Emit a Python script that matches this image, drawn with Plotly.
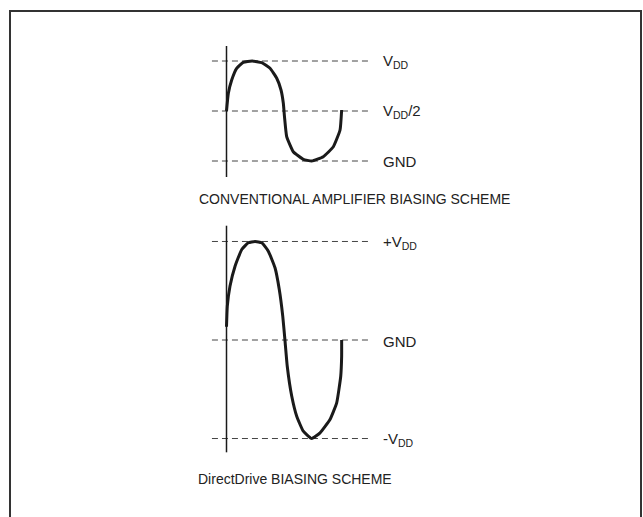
import plotly.graph_objects as go

# ---- data (time in waveform periods, voltage in units of VDD) ----
conv_t = [0.0, 0.016, 0.045, 0.088, 0.145, 0.223, 0.305, 0.377, 0.435, 0.472,
          0.492, 0.502, 0.521, 0.578, 0.665, 0.738, 0.838, 0.925, 0.983, 0.997]
conv_v = [0.50, 0.677, 0.81, 0.927, 0.987, 1.0, 0.983, 0.927, 0.827, 0.71,
          0.577, 0.443, 0.243, 0.093, 0.017, 0.0, 0.043, 0.143, 0.31, 0.51]

dd_t = [0.0, 0.007, 0.030, 0.074, 0.132, 0.189, 0.247, 0.305, 0.362, 0.420,
        0.457, 0.487, 0.506, 0.526, 0.565, 0.608, 0.665, 0.738, 0.810, 0.896,
        0.954, 0.989, 0.997, 0.997]
dd_v = [0.134, 0.343, 0.546, 0.749, 0.919, 0.987, 1.0, 0.987, 0.902, 0.733,
        0.513, 0.242, 0.0, -0.266, -0.571, -0.774, -0.926, -1.0, -0.942, -0.807,
        -0.638, -0.368, -0.164, 0.0]

conv_levels = [1.0, 0.5, 0.0]
conv_labels = ["V<sub>DD</sub>", "V<sub>DD</sub>/2", "GND"]
dd_levels = [1.0, 0.0, -1.0]
dd_labels = ["+V<sub>DD</sub>", "GND", "-V<sub>DD</sub>"]

conv_axis_span = [-0.16, 1.15]
dd_axis_span = [-1.14, 1.16]
ref_span = [-0.126, 1.242]
label_t = 1.335

conv_title = "CONVENTIONAL AMPLIFIER BIASING SCHEME"
dd_title = "DirectDrive BIASING SCHEME"

W, H = 643, 517
FONT = "Liberation Sans Narrow, Arial Narrow, Liberation Sans, Arial, sans-serif"
INK = "#1a1a1a"

fig = go.Figure()

def add_panel(t, v, levels, labels, span, yref_trace, yref_ann):
    for lv in levels:
        fig.add_trace(go.Scatter(x=ref_span, y=[lv, lv], mode="lines",
                                 line=dict(color="#444", width=1, dash="6px,4px"),
                                 yaxis=yref_trace, hoverinfo="skip", showlegend=False))
    fig.add_trace(go.Scatter(x=[0, 0], y=span, mode="lines",
                             line=dict(color=INK, width=1.5),
                             yaxis=yref_trace, hoverinfo="skip", showlegend=False))
    fig.add_trace(go.Scatter(x=t, y=v, mode="lines",
                             line=dict(color=INK, width=3, shape="spline", smoothing=0.4),
                             yaxis=yref_trace, hoverinfo="skip", showlegend=False))
    for lv, lab in zip(levels, labels):
        fig.add_annotation(x=label_t, y=lv, xref="x", yref=yref_ann, text=lab,
                           showarrow=False, xanchor="left", yanchor="middle", yshift=-1,
                           font=dict(family=FONT, size=15, color="#222"))

add_panel(conv_t, conv_v, conv_levels, conv_labels, conv_axis_span, "y", "y")
add_panel(dd_t, dd_v, dd_levels, dd_labels, dd_axis_span, "y2", "y2")

fig.add_annotation(x=197 / W, y=1 - 199 / H, xref="paper", yref="paper", text=conv_title,
                   showarrow=False, xanchor="left", yanchor="middle",
                   font=dict(family=FONT, size=14, color="#222"))
fig.add_annotation(x=196 / W, y=1 - 479 / H, xref="paper", yref="paper", text=dd_title,
                   showarrow=False, xanchor="left", yanchor="middle",
                   font=dict(family=FONT, size=14, color="#222"))

# frame open at the bottom
x0, x1 = 10 / W, 641 / W
ytop = 1 - 11 / H
fig.add_shape(type="path", xref="paper", yref="paper",
              path=f"M {x0},-0.1 L {x0},{ytop} L {x1},{ytop} L {x1},-0.1",
              line=dict(color="#333", width=2))

period_px = 115.5
x_origin_px = 226.5
fig.update_layout(
    width=W, height=H,
    margin=dict(l=0, r=0, t=0, b=0),
    paper_bgcolor="white", plot_bgcolor="white",
    showlegend=False,
    font=dict(family=FONT, size=14, color="#222"),
    xaxis=dict(range=[-x_origin_px / period_px, (W - x_origin_px) / period_px],
               visible=False, domain=[0, 1]),
    yaxis=dict(range=[-0.19, 1.21], domain=[1 - 180 / H, 1 - 40 / H], visible=False),
    yaxis2=dict(range=[-1.218, 1.218], domain=[1 - 460 / H, 1 - 220 / H], visible=False),
)

fig.write_html("out.html",
               config={"displayModeBar": False},
               post_script="document.body.style.margin='0';document.body.style.overflow='hidden';")
